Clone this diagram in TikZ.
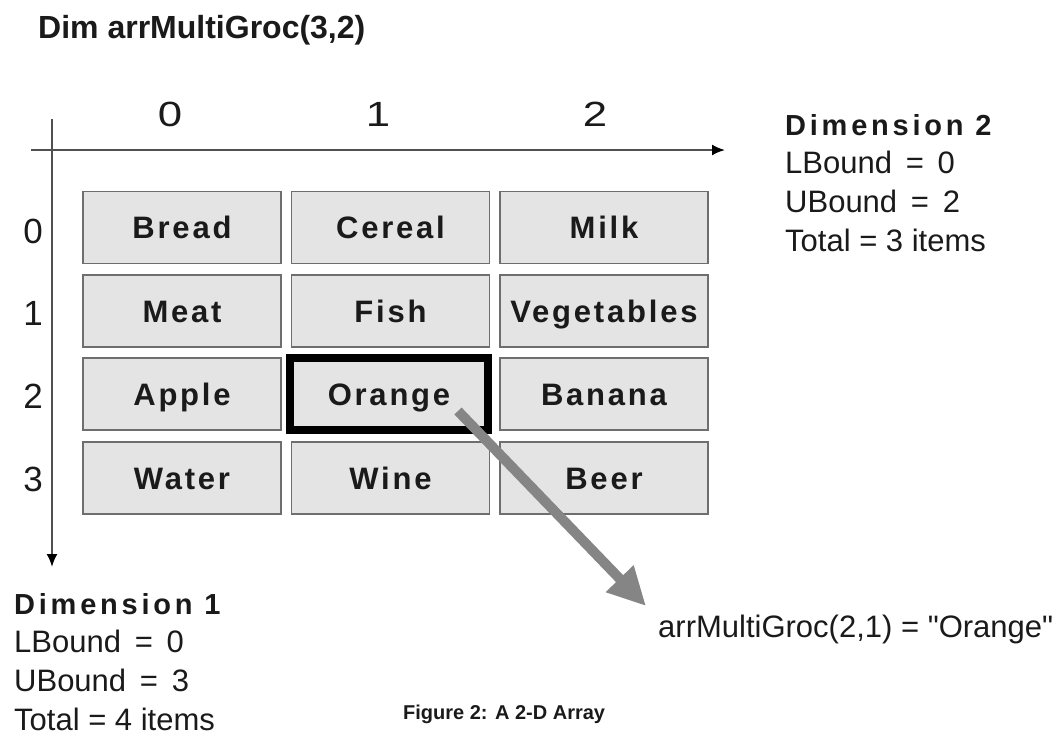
\documentclass[tikz,border=0pt]{standalone}
\usepackage{fontspec}
\setmainfont{Liberation Sans}
\newfontfamily\rawsans{Liberation Sans}
\newfontfamily\spaced[LetterSpace=9]{Liberation Sans}
\newfontfamily\dimspaced[LetterSpace=13]{Liberation Sans}
\usetikzlibrary{arrows.meta}
\definecolor{cellfill}{HTML}{E4E4E4}
\definecolor{cellline}{HTML}{6E6E6E}
\definecolor{axiscol}{HTML}{505050}
\definecolor{txt}{HTML}{1A1A1A}
\definecolor{pointer}{HTML}{858585}
\begin{document}
\begin{tikzpicture}[x=1pt,y=-1pt,
  cell/.style={draw=cellline, line width=1.5pt, fill=cellfill, minimum height=72pt,
    text height=22pt, text depth=0pt, inner sep=0pt,
    font=\spaced\bfseries\fontsize{31}{36}\selectfont, text=txt},
  ncell/.style={cell, minimum width=198pt},
  wcell/.style={cell, minimum width=208pt},
  idx/.style={font=\fontsize{35}{40}\selectfont, text=txt, inner sep=0pt},
  colidx/.style={idx, xscale=1.25, transform shape},
  plain/.style={font=\fontsize{31}{36}\selectfont, text=txt, inner sep=0pt, anchor=base west},
  dimhead/.style={font=\dimspaced\bfseries\fontsize{29}{34}\selectfont, text=txt, inner sep=0pt, anchor=base west},
  axisline/.style={draw=axiscol, line width=2pt, -{Latex[length=13pt,width=11pt,black]}},
  ptr/.style={draw=pointer, line width=10pt, -{Triangle[length=38pt,width=36pt]}}
]
\useasboundingbox (0,0) rectangle (1063,737);

% title
\node[font=\bfseries\fontsize{32}{38}\selectfont, text=txt, inner sep=0pt, anchor=base west] (title) at (38,38) {Dim arrMultiGroc(3,2)};

% axes
\coordinate (hstart) at (31,150);
\coordinate (hend) at (725,150);
\coordinate (vstart) at (52,119);
\coordinate (vend) at (52,567);
\draw[axisline] (hstart) -- (hend);
\draw[axisline] (vstart) -- (vend);

% column indices
\node[colidx] (c0) at (170,114.5) {0};
\node[colidx] (c1) at (378,114.5) {1};
\node[colidx] (c2) at (595,114.5) {2};

% row indices
\node[idx] (r0) at (33,231) {0};
\node[idx] (r1) at (33,313) {1};
\node[idx] (r2) at (33,396) {2};
\node[idx] (r3) at (33,479) {3};

% cells
\node[ncell] (bread)  at (182,227.5) {Bread};
\node[ncell] (cereal) at (390.5,227.5) {Cereal};
\node[wcell] (milk)   at (604,227.5) {Milk};
\node[ncell] (meat)   at (182,311) {Meat};
\node[ncell] (fish)   at (390.5,311) {Fish};
\node[wcell] (veg)    at (604,311) {Vegetables};
\node[ncell] (apple)  at (182,394) {Apple};
\node[ncell, draw=black, line width=8pt] (orange) at (389,394) {Orange};
\node[wcell] (banana) at (604,394) {Banana};
\node[ncell] (water)  at (182,478) {Water};
\node[ncell] (wine)   at (390.5,478) {Wine};
\node[wcell] (beer)   at (604,478) {Beer};

% Dimension 2 block
\node[dimhead] (d2) at (785,135) {Dimension 2};
\node[plain] (d2l) at (785,173) {LBound \,= \,0};
\node[plain] (d2u) at (785,212) {UBound \,= \,2};
\node[plain] (d2t) at (785,251) {Total = 3 items};

% Dimension 1 block
\node[dimhead] (d1) at (14,614) {Dimension 1};
\node[plain] (d1l) at (14,652) {LBound \,= \,0};
\node[plain] (d1u) at (14,691) {UBound \,= \,3};
\node[plain] (d1t) at (14,730) {Total = 4 items};

% result label and pointer
\node[plain, font=\rawsans\fontsize{31}{36}\selectfont] (result) at (658,637) {arrMultiGroc(2,1) = "Orange"};
\coordinate (ptrstart) at (458,411);
\coordinate (ptrtip) at (646,606);
\draw[ptr] (ptrstart) -- (ptrtip);

% caption
\node[font=\bfseries\fontsize{20}{24}\selectfont, text=txt, inner sep=0pt, anchor=base west] (caption) at (403,719) {Figure 2: A 2-D Array};
\end{tikzpicture}
\end{document}
